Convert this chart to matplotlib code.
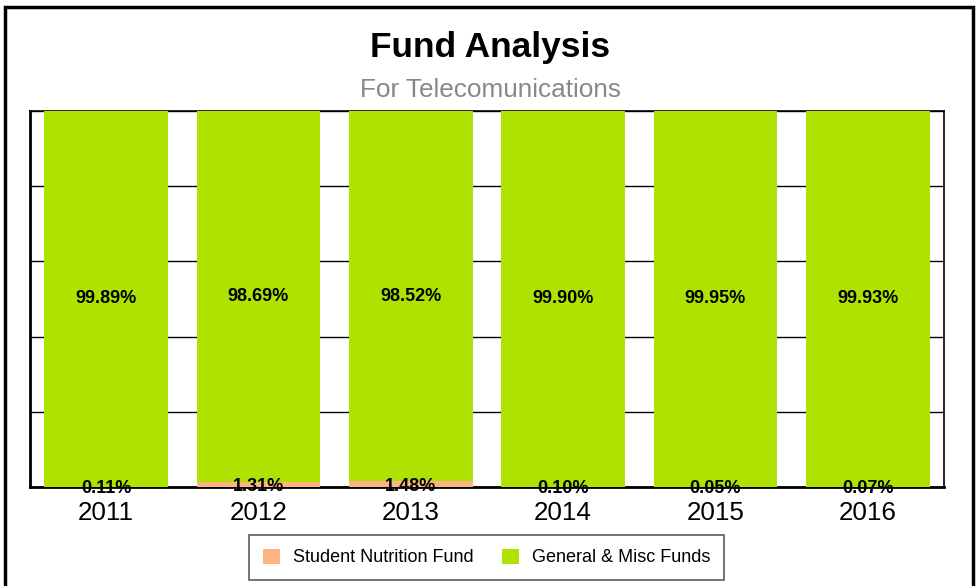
import matplotlib
matplotlib.use('Agg')
import matplotlib.pyplot as plt
from matplotlib.patches import Rectangle, Patch
import numpy as np

plt.rcParams['font.family'] = ['Liberation Sans', 'DejaVu Sans']

years = ['2011', '2012', '2013', '2014', '2015', '2016']
student = [0.11, 1.31, 1.48, 0.10, 0.05, 0.07]
general = [99.89, 98.69, 98.52, 99.90, 99.95, 99.93]
series_names = ['Student Nutrition Fund', 'General & Misc Funds']
colors = ['#FDB482', '#AEE200']

fig = plt.figure(figsize=(9.78, 5.86), dpi=100)
ax = fig.add_axes([30 / 978, 99 / 586, 914 / 978, 376 / 586])

x = np.arange(len(years))
width = 0.81
ax.bar(x, student, width, color=colors[0], zorder=3)
ax.bar(x, general, width, bottom=student, color=colors[1], zorder=3)

for i in range(len(years)):
    ax.annotate('%.2f%%' % student[i], (x[i], student[i] / 2),
                xytext=(0, -1.5), textcoords='offset points', ha='center',
                va='center', fontsize=13, fontweight='bold', zorder=4)
    ax.text(x[i], student[i] + general[i] / 2, '%.2f%%' % general[i],
            ha='center', va='center', fontsize=13, fontweight='bold', zorder=4)

ax.set_xlim(-0.5, len(years) - 0.5)
ax.set_ylim(0, 100)
ax.set_yticks([0, 20, 40, 60, 80, 100])
ax.yaxis.grid(True, color='black', linewidth=1.0)
ax.set_axisbelow(True)
ax.tick_params(axis='y', left=False, labelleft=False)
ax.set_xticks(x)
ax.set_xticklabels(years, fontsize=18.7)
ax.tick_params(axis='x', length=0, pad=10)
for side in ['left', 'bottom']:
    ax.spines[side].set_linewidth(2)
for side in ['top', 'right']:
    ax.spines[side].set_linewidth(1.2)

fig.text(490 / 978, 1 - 47 / 586, 'Fund Analysis', ha='center', va='center',
         fontsize=25.4, fontweight='bold')
fig.text(490 / 978, 1 - 90 / 586, 'For Telecomunications', ha='center',
         va='center', fontsize=18.8, color='#888888')

handles = [Patch(facecolor=c, edgecolor='none') for c in colors]
leg = fig.legend(handles, series_names, loc='center',
                 bbox_to_anchor=(486.5 / 978, 1 - 557.5 / 586), ncol=2,
                 fontsize=13, frameon=True, fancybox=False,
                 handlelength=0.95, handleheight=0.95, handletextpad=0.7,
                 columnspacing=1.6, borderpad=0.75, borderaxespad=0)
leg.get_frame().set_edgecolor('#333333')
leg.get_frame().set_linewidth(1.2)

# outer frame
fig.patches.append(Rectangle((5 / 978, -0.05), 968 / 978, 1.05 - 7 / 586,
                             transform=fig.transFigure, fill=False,
                             edgecolor='black', linewidth=2.5))

fig.savefig('out.png', dpi=100)
